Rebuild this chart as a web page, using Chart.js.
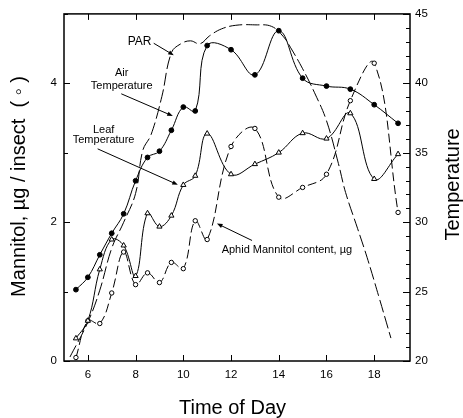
<!DOCTYPE html>
<html>
<head>
<meta charset="utf-8">
<script src="https://cdn.jsdelivr.net/npm/chart.js@4.4.1/dist/chart.umd.min.js"></script>
<style>
  html, body { margin: 0; padding: 0; background: #fff; }
  #wrap { width: 463px; height: 418px; }
</style>
</head>
<body>
<div id="wrap"><canvas id="c" width="463" height="418"></canvas></div>
<script>
// ---- data ----
const hours = [5.5, 6, 6.5, 7, 7.5, 8, 8.5, 9, 9.5, 10, 10.5, 11, 12, 13, 14, 15, 16, 17, 18, 19];
const airTemp = [25.14, 26.03, 27.65, 29.20, 30.60, 32.98, 34.66, 35.11, 36.62, 38.29, 38.01, 42.72, 42.42, 40.61, 43.79, 40.37, 39.80, 39.58, 38.46, 37.12];
const leafTemp = [21.63, 22.9, 26.6, 28.75, 28.32, 26.12, 30.64, 29.68, 30.47, 32.68, 33.34, 36.38, 33.45, 34.18, 35.01, 36.41, 36.02, 37.84, 33.11, 34.90];
const aphidMannitol = [0.05, 0.58, 0.54, 0.98, 1.57, 1.10, 1.27, 1.13, 1.42, 1.33, 2.02, 1.75, 3.09, 3.35, 2.36, 2.50, 2.69, 3.75, 4.29, 2.14];
const parHours = [5.25, 6, 6.5, 7, 7.5, 8, 8.3, 8.65, 9.1, 9.5, 9.9, 10.3, 10.7, 11.1, 11.6, 12.2, 13, 13.7, 14.2, 14.5, 15, 15.5, 16, 16.5, 16.8, 17.3, 17.7, 18.2, 18.7];
const parValues = [29, 280, 510, 812, 999, 1207, 1516, 1631, 1904, 2220, 2285, 2306, 2285, 2342, 2392, 2418, 2421, 2410, 2335, 2256, 2105, 1932, 1731, 1422, 1214, 956, 747, 460, 165];

const xTicks = [6, 8, 10, 12, 14, 16, 18];
const yLeftTicks = [0, 2, 4];
const yLeftMinor = [1, 3, 5];
const yRightTicks = [20, 25, 30, 35, 40, 45];
const yRightMinor = [21,22,23,24,26,27,28,29,31,32,33,34,36,37,38,39,41,42,43,44];

const titleX = 'Time of Day';
const titleYLeft = 'Mannitol, µg / insect  ( \u25E6 )';
const titleYRight = 'Temperature';

// annotations: text lines at (hour, mannitol units)
const notes = [
  { lines: ['PAR'], x: 8.17, y: [4.548], size: 12 },
  { lines: ['Air', 'Temperature'], x: 7.42, y: [4.103, 3.924], size: 11 },
  { lines: ['Leaf', 'Temperature'], x: 6.66, y: [3.290, 3.146], size: 11 },
  { lines: ['Aphid Mannitol content, µg'], x: 14.34, y: [1.549], size: 11 }
];
const arrows = [
  [8.76, 4.577, 9.60, 4.405],
  [7.40, 3.849, 9.56, 3.529],
  [6.41, 3.056, 9.77, 2.539],
  [12.88, 1.736, 11.41, 1.980]
];

const pts = (xs, ys) => xs.map((v, i) => ({ x: v, y: ys[i] }));
const FONT = '"Liberation Sans", Arial, sans-serif';

const decor = {
  id: 'decor',
  afterDraw(chart) {
    const ctx = chart.ctx;
    const a = chart.chartArea;
    const sx = chart.scales.x, sy = chart.scales.y, sy2 = chart.scales.y2;
    ctx.save();
    ctx.strokeStyle = '#000';
    ctx.fillStyle = '#000';
    // frame
    ctx.lineWidth = 1.5;
    ctx.strokeRect(a.left, a.top, a.right - a.left, a.bottom - a.top);
    // ticks
    ctx.lineWidth = 1;
    ctx.beginPath();
    xTicks.forEach(v => {
      const p = Math.round(sx.getPixelForValue(v)) + 0.5;
      ctx.moveTo(p, a.bottom); ctx.lineTo(p, a.bottom - 6);
      ctx.moveTo(p, a.top); ctx.lineTo(p, a.top + 6);
    });
    yLeftTicks.forEach(v => {
      const p = Math.round(sy.getPixelForValue(v)) + 0.5;
      ctx.moveTo(a.left, p); ctx.lineTo(a.left + 6, p);
    });
    yLeftMinor.forEach(v => {
      const p = Math.round(sy.getPixelForValue(v)) + 0.5;
      ctx.moveTo(a.left, p); ctx.lineTo(a.left + 4, p);
    });
    yRightTicks.forEach(v => {
      const p = Math.round(sy2.getPixelForValue(v)) + 0.5;
      ctx.moveTo(a.right, p); ctx.lineTo(a.right - 7, p);
    });
    yRightMinor.forEach(v => {
      const p = Math.round(sy2.getPixelForValue(v)) + 0.5;
      ctx.moveTo(a.right, p); ctx.lineTo(a.right - 4, p);
    });
    ctx.stroke();

    // annotations
    ctx.textAlign = 'center';
    ctx.textBaseline = 'alphabetic';
    notes.forEach(n => {
      ctx.font = n.size + 'px ' + FONT;
      n.lines.forEach((t, i) => {
        ctx.fillText(t, sx.getPixelForValue(n.x), sy.getPixelForValue(n.y[i]));
      });
    });
    ctx.lineWidth = 1;
    arrows.forEach(r => {
      const x1 = sx.getPixelForValue(r[0]), y1 = sy.getPixelForValue(r[1]);
      const x2 = sx.getPixelForValue(r[2]), y2 = sy.getPixelForValue(r[3]);
      const ang = Math.atan2(y2 - y1, x2 - x1);
      ctx.beginPath();
      ctx.moveTo(x1, y1); ctx.lineTo(x2 - 4 * Math.cos(ang), y2 - 4 * Math.sin(ang));
      ctx.stroke();
      const L = 6, w = 0.38;
      ctx.beginPath();
      ctx.moveTo(x2, y2);
      ctx.lineTo(x2 - L * Math.cos(ang - w), y2 - L * Math.sin(ang - w));
      ctx.lineTo(x2 - L * Math.cos(ang + w), y2 - L * Math.sin(ang + w));
      ctx.closePath();
      ctx.fill();
    });

    // axis titles
    ctx.font = '20px ' + FONT;
    ctx.textAlign = 'center';
    ctx.fillText(titleX, 232.5, 414);
    ctx.save();
    ctx.translate(25, (a.top + a.bottom) / 2 - 1);
    ctx.rotate(-Math.PI / 2);
    ctx.fillText(titleYLeft, 0, 0);
    ctx.restore();
    ctx.save();
    ctx.translate(459, (a.top + a.bottom) / 2 - 3);
    ctx.rotate(-Math.PI / 2);
    ctx.fillText(titleYRight, 0, 0);
    ctx.restore();
    ctx.restore();
  }
};

const tickFont = { family: FONT, size: 11.5 };

new Chart(document.getElementById('c'), {
  type: 'line',
  data: {
    datasets: [
      {
        label: 'Air Temperature', data: pts(hours, airTemp), yAxisID: 'y2',
        borderColor: '#000', borderWidth: 1, tension: 0.4,
        pointStyle: 'circle', pointRadius: 2.4, pointBackgroundColor: '#000', pointBorderColor: '#000', pointBorderWidth: 1,
        order: 1
      },
      {
        label: 'Leaf Temperature', data: pts(hours, leafTemp), yAxisID: 'y2',
        borderColor: '#000', borderWidth: 1, tension: 0.4,
        pointStyle: 'triangle', pointRadius: 3, pointBackgroundColor: '#fff', pointBorderColor: '#000', pointBorderWidth: 1,
        order: 2
      },
      {
        label: 'Aphid Mannitol content, µg', data: pts(hours, aphidMannitol), yAxisID: 'y',
        borderColor: '#000', borderWidth: 1, tension: 0.4, borderDash: [9, 4],
        pointStyle: 'circle', pointRadius: 2.2, pointBackgroundColor: '#fff', pointBorderColor: '#000', pointBorderWidth: 1,
        order: 3
      },
      {
        label: 'PAR', data: pts(parHours, parValues), yAxisID: 'yPar',
        borderColor: '#000', borderWidth: 1, tension: 0.4, borderDash: [13, 4],
        pointRadius: 0,
        order: 4
      }
    ]
  },
  options: {
    responsive: false,
    animation: false,
    events: [],
    layout: { padding: 0 },
    plugins: { legend: { display: false }, tooltip: { enabled: false }, title: { display: false } },
    scales: {
      x: {
        type: 'linear', position: 'bottom', min: 5, max: 19.5,
        grid: { display: false, drawTicks: false }, border: { display: false },
        ticks: { font: tickFont, color: '#000', padding: 7, maxRotation: 0 },
        afterBuildTicks: s => { s.ticks = xTicks.map(v => ({ value: v })); },
        afterFit: s => { s.height = 57; }
      },
      xTop: {
        type: 'linear', position: 'top', min: 5, max: 19.5,
        grid: { display: false, drawTicks: false }, border: { display: false },
        ticks: { display: false },
        afterFit: s => { s.height = 13; }
      },
      y: {
        type: 'linear', position: 'left', min: 0, max: 5,
        grid: { display: false, drawTicks: false }, border: { display: false },
        ticks: { font: tickFont, color: '#000', padding: 7 },
        afterBuildTicks: s => { s.ticks = yLeftTicks.map(v => ({ value: v })); },
        afterFit: s => { s.width = 64; }
      },
      y2: {
        type: 'linear', position: 'right', min: 20, max: 45,
        grid: { display: false, drawTicks: false }, border: { display: false },
        ticks: { font: tickFont, color: '#000', padding: 5 },
        afterBuildTicks: s => { s.ticks = yRightTicks.map(v => ({ value: v })); },
        afterFit: s => { s.width = 53; }
      },
      yPar: {
        type: 'linear', display: false, min: 0, max: 2500
      }
    }
  },
  plugins: [decor]
});
</script>
</body>
</html>
